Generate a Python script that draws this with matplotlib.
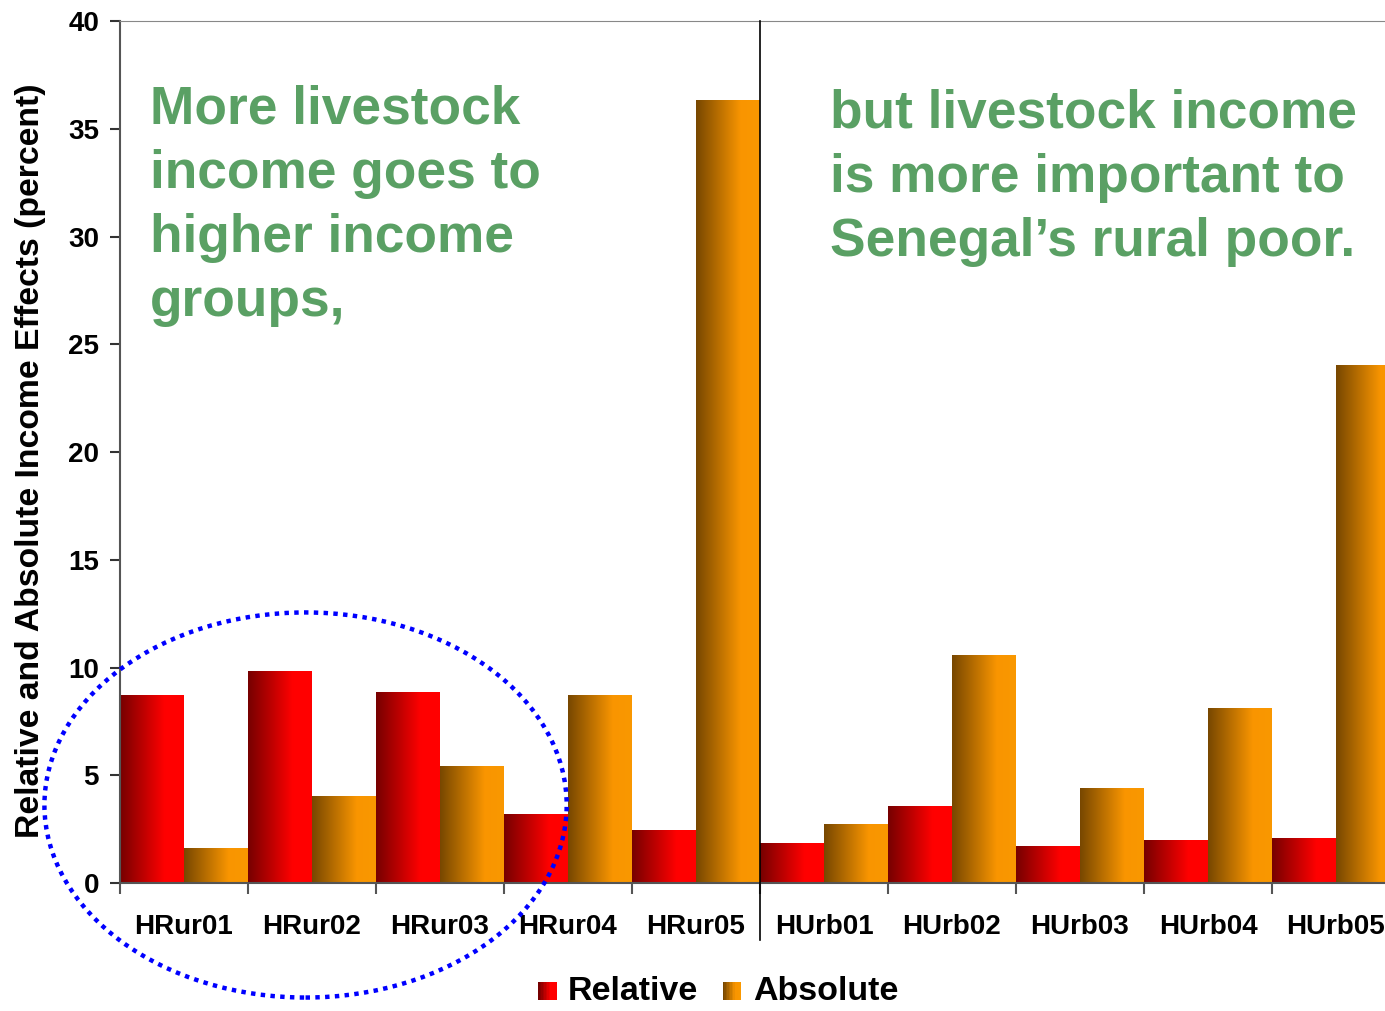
import numpy as np
import matplotlib
matplotlib.use("Agg")
import matplotlib.pyplot as plt
from matplotlib.colors import LinearSegmentedColormap
from matplotlib.patches import Ellipse, Rectangle
from matplotlib.legend_handler import HandlerBase

plt.rcParams['font.family'] = ['Liberation Sans', 'DejaVu Sans']
plt.rcParams['font.weight'] = 'bold'

# ==================== DATA ====================
categories = ["HRur01", "HRur02", "HRur03", "HRur04", "HRur05",
              "HUrb01", "HUrb02", "HUrb03", "HUrb04", "HUrb05"]
relative = [8.72, 9.84, 8.86, 3.2, 2.46, 1.86, 3.57, 1.72, 2.0, 2.09]
absolute = [1.62, 4.04, 5.43, 8.72, 36.33, 2.74, 10.58, 4.41, 8.12, 24.04]
series_names = ["Relative", "Absolute"]

text_left = "More livestock\nincome goes to\nhigher income\ngroups,"
text_right = "but livestock income\nis more important to\nSenegal\u2019s rural poor."
ylabel = "Relative and Absolute Income Effects (percent)"

# gradient colour maps (dark left -> bright right)
cmap_rel = LinearSegmentedColormap.from_list(
    "rel", [(0, "#760000"), (0.7, "#ff0000"), (1, "#ff0000")])
cmap_abs = LinearSegmentedColormap.from_list(
    "abs", [(0, "#774700"), (0.7, "#f99500"), (1, "#fa9800")])
green = "#5aa064"

fig = plt.figure(figsize=(13.85, 10.11), dpi=100)
# axes runs slightly past the right edge of the picture (cropped like the original)
ax = fig.add_axes([0.0866, 0.1266, 1280 / 1385, 0.8526])

x = np.arange(len(categories))
grad = np.linspace(0, 1, 256).reshape(1, -1)


def gradient_bars(xpos, vals, cmap):
    bars = ax.bar(xpos, vals, width=0.5, align='edge', color='none',
                  edgecolor='none')
    for b in bars:
        x0, y0 = b.get_x(), b.get_y()
        im = ax.imshow(grad, extent=[x0, x0 + b.get_width(), y0, y0 + b.get_height()],
                       aspect='auto', cmap=cmap, zorder=2)
        im.set_clip_path(b)
    return bars


gradient_bars(x, relative, cmap_rel)
gradient_bars(x + 0.5, absolute, cmap_abs)

ax.set_xlim(0, len(categories))
ax.set_ylim(0, 40)
ax.set_yticks(range(0, 41, 5))
ax.set_xticks(range(0, len(categories) + 1))
ax.set_xticklabels([])
ax.set_xticks(x + 0.5, minor=True)
ax.set_xticklabels(categories, minor=True)
ax.tick_params(axis='x', which='minor', length=0, pad=22, labelsize=20)
ax.tick_params(axis='x', which='major', length=8, width=1.5, color='#555555', direction='out')
ax.tick_params(axis='y', length=7, width=1.5, color='#333333', labelsize=20, pad=8)

ax.spines['right'].set_visible(False)
ax.spines['top'].set_color('#888888')
ax.spines['left'].set_color('#555555')
ax.spines['left'].set_linewidth(1.5)
ax.spines['bottom'].set_color('#555555')
ax.spines['bottom'].set_linewidth(1.5)

ax.set_ylabel(ylabel, fontsize=24.3, fontweight='bold')
ax.yaxis.set_label_coords(-0.058, 0.49)

# separator between rural and urban
ax.plot([5, 5], [-2.65, 40], color='black', lw=1.2, clip_on=False, zorder=3)

# annotation texts
ax.text(0.235, 37.05, text_left, color=green, fontsize=38.3, fontweight='bold',
        va='top', ha='left', linespacing=1.36)
ax.text(5.55, 36.85, text_right, color=green, fontsize=38.3, fontweight='bold',
        va='top', ha='left', linespacing=1.36)

# dotted ellipse
ell = Ellipse((1.45, 3.62), width=4.08, height=17.87, fill=False,
              edgecolor='#0000ff', linestyle=(0, (1, 1.2)), linewidth=3.2,
              clip_on=False, zorder=5)
ax.add_patch(ell)


class GradientHandler(HandlerBase):
    def __init__(self, cmap):
        super().__init__()
        self.cmap = cmap

    def create_artists(self, legend, orig_handle, xdescent, ydescent,
                       width, height, fontsize, trans):
        n = 12
        side = height * 0.75
        x0 = -xdescent + width - side
        arts = []
        for i in range(n):
            r = Rectangle((x0 + side * i / n, -ydescent), side / n + 0.3, side,
                          facecolor=self.cmap(i / (n - 1)), edgecolor='none',
                          transform=trans)
            arts.append(r)
        return arts


h1 = Rectangle((0, 0), 1, 1)
h2 = Rectangle((0, 0), 1, 1)
fig.legend([h1, h2], series_names, loc='center', bbox_to_anchor=(0.517, 0.019),
           ncol=2, frameon=False, handlelength=0.65, handletextpad=0.35,
           columnspacing=0.6, borderpad=0.1,
           handler_map={h1: GradientHandler(cmap_rel), h2: GradientHandler(cmap_abs)},
           prop={'weight': 'bold', 'size': 24.5})

fig.savefig("out.png", dpi=100)
